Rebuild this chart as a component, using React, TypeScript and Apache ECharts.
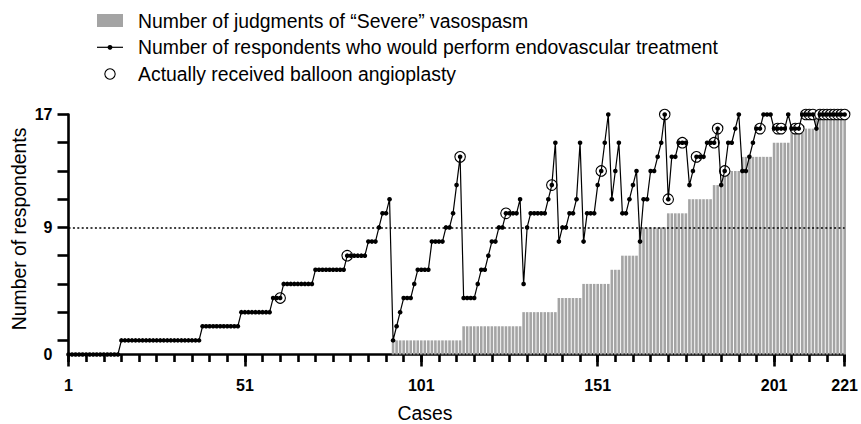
import React, { useEffect, useRef } from "react";
import * as echarts from "echarts";

// Number of respondents who would perform endovascular treatment (cases 1..221)
const treatValues = [
  0, 0, 0, 0, 0, 0, 0, 0, 0, 0,
  0, 0, 0, 0, 0, 1, 1, 1, 1, 1,
  1, 1, 1, 1, 1, 1, 1, 1, 1, 1,
  1, 1, 1, 1, 1, 1, 1, 1, 2, 2,
  2, 2, 2, 2, 2, 2, 2, 2, 2, 3,
  3, 3, 3, 3, 3, 3, 3, 3, 4, 4,
  4, 5, 5, 5, 5, 5, 5, 5, 5, 5,
  6, 6, 6, 6, 6, 6, 6, 6, 6, 7,
  7, 7, 7, 7, 7, 8, 8, 8, 9, 10,
  10, 11, 1, 2, 3, 4, 4, 4, 5, 6,
  6, 6, 6, 8, 8, 8, 8, 9, 9, 10,
  12, 14, 4, 4, 4, 4, 5, 6, 6, 7,
  8, 8, 9, 9, 10, 10, 10, 10, 11, 5,
  9, 10, 10, 10, 10, 10, 11, 12, 15, 8,
  9, 9, 10, 10, 11, 15, 8, 10, 10, 10,
  12, 13, 15, 17, 11, 13, 15, 10, 10, 11,
  12, 13, 8, 11, 11, 13, 13, 14, 15, 17,
  11, 14, 14, 15, 15, 15, 12, 13, 14, 14,
  14, 15, 15, 15, 16, 12, 13, 15, 15, 16,
  17, 13, 13, 14, 15, 16, 16, 17, 17, 17,
  16, 16, 16, 16, 17, 16, 16, 16, 17, 17,
  17, 17, 16, 17, 17, 17, 17, 17, 17, 17,
  17,
];

// Number of judgments of "Severe" vasospasm (cases 1..221)
const severeValues = [
  0, 0, 0, 0, 0, 0, 0, 0, 0, 0,
  0, 0, 0, 0, 0, 0, 0, 0, 0, 0,
  0, 0, 0, 0, 0, 0, 0, 0, 0, 0,
  0, 0, 0, 0, 0, 0, 0, 0, 0, 0,
  0, 0, 0, 0, 0, 0, 0, 0, 0, 0,
  0, 0, 0, 0, 0, 0, 0, 0, 0, 0,
  0, 0, 0, 0, 0, 0, 0, 0, 0, 0,
  0, 0, 0, 0, 0, 0, 0, 0, 0, 0,
  0, 0, 0, 0, 0, 0, 0, 0, 0, 0,
  0, 0, 1, 1, 1, 1, 1, 1, 1, 1,
  1, 1, 1, 1, 1, 1, 1, 1, 1, 1,
  1, 1, 2, 2, 2, 2, 2, 2, 2, 2,
  2, 2, 2, 2, 2, 2, 2, 2, 2, 3,
  3, 3, 3, 3, 3, 3, 3, 3, 3, 4,
  4, 4, 4, 4, 4, 4, 5, 5, 5, 5,
  5, 5, 5, 5, 6, 6, 6, 7, 7, 7,
  7, 7, 9, 9, 9, 9, 9, 9, 9, 9,
  10, 10, 10, 10, 10, 10, 11, 11, 11, 11,
  11, 11, 11, 12, 12, 12, 13, 13, 13, 13,
  13, 14, 14, 14, 14, 14, 14, 14, 14, 14,
  15, 15, 15, 15, 15, 16, 16, 16, 16, 16,
  16, 16, 17, 17, 17, 17, 17, 17, 17, 17,
  17,
];

// Cases that actually received balloon angioplasty, and their value on the line
const angioCases = [61, 80, 112, 125, 138, 152, 170, 171, 175, 179, 184, 185, 187, 197, 202, 203, 207, 208, 210, 211, 212, 214, 215, 216, 217, 218, 219, 220, 221];
const angioValues = [4, 7, 14, 10, 12, 13, 17, 11, 15, 14, 15, 16, 13, 16, 16, 16, 16, 16, 17, 17, 17, 17, 17, 17, 17, 17, 17, 17, 17];

const xLabelTicks = [1, 51, 101, 151, 201, 221];
const xMinorTicks = [1, 6, 11, 16, 21, 26, 31, 36, 41, 46, 51, 56, 61, 66, 71, 76, 81, 86, 91, 96, 101, 106, 111, 116, 121, 126, 131, 136, 141, 146, 151, 156, 161, 166, 171, 176, 181, 186, 191, 196, 201, 206, 211, 216, 221];
const yTicks = [1, 3, 5, 7, 9, 11, 13, 15, 17];
const yLabelTicks = [0, 9, 17];
const thresholdValue = 9;

const legendLabels = [
  "Number of judgments of \u201CSevere\u201D vasospasm",
  "Number of respondents who would perform endovascular treatment",
  "Actually received balloon angioplasty",
];
const xAxisTitle = "Cases";
const yAxisTitle = "Number of respondents";

const FONT = "'Liberation Sans', Arial, Helvetica, sans-serif";
const BAR_COLOR = "#a4a4a4";

export default function App() {
  const ref = useRef<HTMLDivElement>(null);

  useEffect(() => {
    if (!ref.current) return;
    const chart = echarts.init(ref.current, undefined, { renderer: "svg" });

    const barData = severeValues.map((v, i) => [i + 1, v]);
    const lineData = treatValues.map((v, i) => [i + 1, v]);
    const circleData = angioCases.map((c, i) => [c, angioValues[i]]);

    const axisLineStyle = { color: "#000", width: 2.6 };

    const legendTop = [20.7, 47.3, 74];

    const option: any = {
      animation: false,
      grid: { left: 68.5, right: 12.7, top: 114.5, bottom: 69.5, containLabel: false },
      xAxis: [
        {
          type: "value",
          min: 1,
          max: 221,
          position: "bottom",
          axisLine: { show: true, onZero: false, lineStyle: axisLineStyle },
          axisTick: { show: true, customValues: xMinorTicks, length: 7.5, lineStyle: axisLineStyle },
          axisLabel: { show: false },
          splitLine: { show: false },
        },
        {
          type: "value",
          min: 1,
          max: 221,
          position: "bottom",
          axisLine: { show: false, onZero: false },
          axisTick: { show: true, customValues: xLabelTicks, length: 12, lineStyle: axisLineStyle },
          axisLabel: {
            show: true,
            customValues: xLabelTicks,
            margin: 23,
            fontSize: 16,
            fontWeight: "bold",
            color: "#000",
            fontFamily: FONT,
          },
          splitLine: { show: false },
        },
      ],
      yAxis: {
        type: "value",
        min: 0,
        max: 17,
        axisLine: { show: true, lineStyle: axisLineStyle },
        axisTick: { show: true, customValues: yTicks, length: 11, lineStyle: axisLineStyle },
        axisLabel: {
          show: true,
          customValues: yLabelTicks,
          margin: 16,
          fontSize: 16,
          fontWeight: "bold",
          color: "#000",
          fontFamily: FONT,
        },
        splitLine: { show: false },
      },
      series: [
        {
          name: legendLabels[0],
          type: "bar",
          xAxisIndex: 0,
          data: barData,
          barWidth: 2.6,
          itemStyle: { color: BAR_COLOR },
          z: 2,
          silent: true,
        },
        {
          name: legendLabels[2],
          type: "scatter",
          xAxisIndex: 0,
          data: circleData,
          symbol: "circle",
          symbolSize: 10.5,
          itemStyle: { color: "#fff", borderColor: "#000", borderWidth: 1.1, opacity: 1 },
          z: 3,
          silent: true,
        },
        {
          name: legendLabels[1],
          type: "line",
          xAxisIndex: 0,
          data: lineData,
          symbol: "circle",
          symbolSize: 4.6,
          showSymbol: true,
          showAllSymbol: true,
          lineStyle: { color: "#000", width: 1.2 },
          itemStyle: { color: "#000" },
          z: 4,
          silent: true,
          markLine: {
            silent: true,
            symbol: ["none", "none"],
            label: { show: false },
            lineStyle: { color: "#000", type: [2, 2.4], width: 1.6 },
            data: [{ yAxis: thresholdValue }],
          },
        },
      ],
      graphic: [
        {
          type: "rect",
          shape: { x: 97, y: 14, width: 26, height: 13 },
          style: { fill: BAR_COLOR },
        },
        {
          type: "line",
          shape: { x1: 97, y1: 47.3, x2: 123, y2: 47.3 },
          style: { stroke: "#000", lineWidth: 1.2 },
        },
        {
          type: "circle",
          shape: { cx: 110, cy: 47.3, r: 2.4 },
          style: { fill: "#000" },
        },
        {
          type: "circle",
          shape: { cx: 110, cy: 74, r: 5.2 },
          style: { fill: "#fff", stroke: "#000", lineWidth: 1.1 },
        },
        ...legendLabels.map((t, i) => ({
          type: "text",
          x: 138,
          y: legendTop[i],
          style: {
            text: t,
            fill: "#000",
            fontSize: 19.4,
            fontFamily: FONT,
            align: "left",
            verticalAlign: "middle",
          },
        })),
        {
          type: "text",
          x: 425,
          y: 413,
          style: {
            text: xAxisTitle,
            fill: "#000",
            fontSize: 19.4,
            fontFamily: FONT,
            align: "center",
            verticalAlign: "middle",
          },
        },
        {
          type: "text",
          x: 18.5,
          y: 229,
          rotation: Math.PI / 2,
          style: {
            text: yAxisTitle,
            fill: "#000",
            fontSize: 19.4,
            fontFamily: FONT,
            align: "center",
            verticalAlign: "middle",
          },
        },
      ],
    };

    chart.setOption(option);
    return () => {
      chart.dispose();
    };
  }, []);

  return (
    <div
      ref={ref}
      style={{ position: "fixed", left: 0, top: 0, width: 861, height: 424, background: "#fff" }}
    />
  );
}
